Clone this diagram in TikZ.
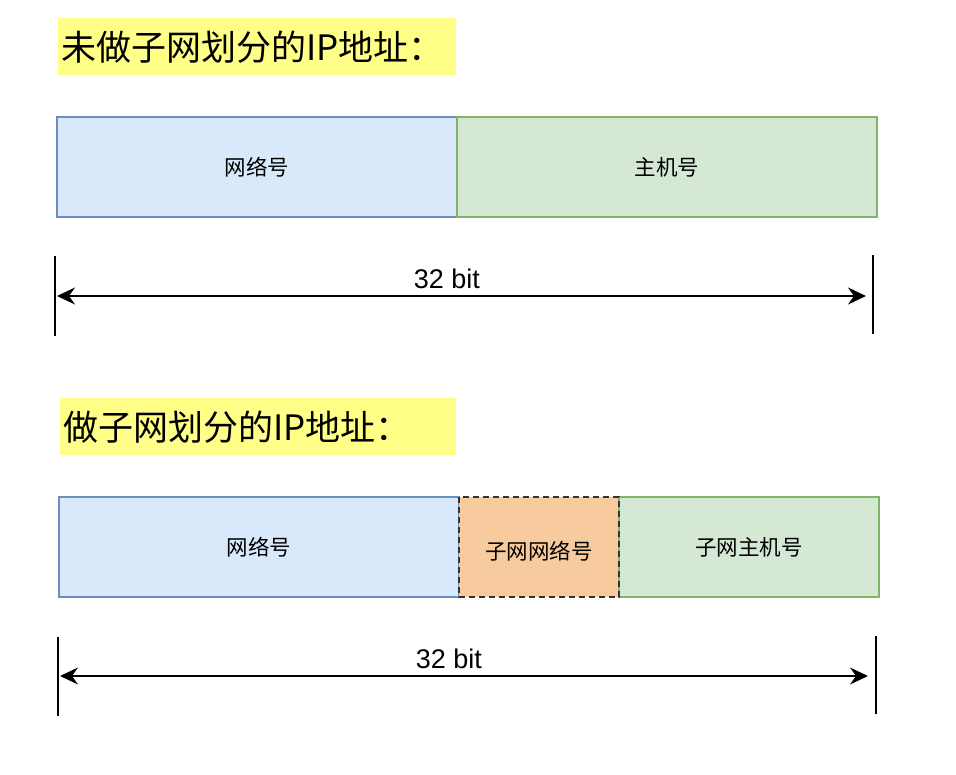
\documentclass[tikz,border=0pt]{standalone}
\usepackage{fontspec}
\setmainfont{Liberation Sans}
\newfontfamily\cjk{Noto Sans CJK SC}
\usepackage{xcolor}
\usetikzlibrary{arrows.meta,positioning}
\definecolor{TitleFill}{HTML}{FFFF88}
\definecolor{NetFill}{HTML}{DAE8FC}
\definecolor{NetLine}{HTML}{6C8EBF}
\definecolor{HostFill}{HTML}{D5E8D4}
\definecolor{HostLine}{HTML}{82B366}
\definecolor{SubFill}{HTML}{F8CB9E}
\definecolor{SubLine}{HTML}{333333}
\tikzset{
  titlebox/.style={fill=TitleFill,anchor=north west,minimum height=57pt,inner xsep=3pt,align=left,font=\cjk\fontsize{35}{40}\selectfont,text width=392pt},
  field/.style={line width=1.3pt,minimum height=100pt,outer sep=0pt,inner sep=0pt,font=\cjk\fontsize{21.5}{26}\selectfont},
  netbox/.style={field,draw=NetLine,fill=NetFill},
  hostbox/.style={field,draw=HostLine,fill=HostFill},
  subbox/.style={field,fill=SubFill},
  subedge/.style={draw=SubLine,line width=1.5pt,dash pattern=on 6pt off 4pt},
  tick/.style={line width=1.6pt},
  span/.style={{Stealth[length=18pt,width=17pt,inset=6pt]}-{Stealth[length=18pt,width=17pt,inset=6pt]},line width=1.6pt},
  bits/.style={font=\fontsize{27}{32}\selectfont}
}
\begin{document}
\begin{tikzpicture}[x=1pt,y=-1pt]
  \useasboundingbox[fill=white] (0,0) rectangle (956,774);
  % without subnetting
  \node[titlebox] (title1) at (58,18) {未做子网划分的IP地址：};
  \node[netbox,anchor=north west,minimum width=400pt] (net1) at (57,117) {网络号};
  \node[hostbox,right=0pt of net1,minimum width=420pt] (host1) {主机号};
  \coordinate (l1top) at (55,256);
  \coordinate (l1bot) at (55,336);
  \coordinate (r1top) at (873,255);
  \coordinate (r1bot) at (873,334);
  \draw[tick] (l1top) -- (l1bot);
  \draw[tick] (r1top) -- (r1bot);
  \coordinate (a1l) at (57,296);
  \coordinate (a1r) at (866,296);
  \draw[span] (a1l) -- (a1r);
  \node[bits] (bits1) at (447,279) {32 bit};
  % with subnetting
  \node[titlebox,text width=390pt] (title2) at (60,398) {做子网划分的IP地址：};
  \node[netbox,anchor=north west,minimum width=400pt] (net2) at (59,497) {网络号};
  \node[subbox,right=0pt of net2,minimum width=160pt] (sub2) {};
  \node[hostbox,right=0pt of sub2,minimum width=260pt] (host2) {子网主机号};
  \draw[subedge] (sub2.north west) rectangle (sub2.south east);
  \node[font=\cjk\fontsize{21.5}{26}\selectfont] (sub2text) at ([yshift=-4pt]sub2.center) {子网网络号};
  \coordinate (l2top) at (58,637);
  \coordinate (l2bot) at (58,716);
  \coordinate (r2top) at (876,636);
  \coordinate (r2bot) at (876,714);
  \draw[tick] (l2top) -- (l2bot);
  \draw[tick] (r2top) -- (r2bot);
  \coordinate (a2l) at (60,676);
  \coordinate (a2r) at (868,676);
  \draw[span] (a2l) -- (a2r);
  \node[bits] (bits2) at (449,659) {32 bit};
\end{tikzpicture}
\end{document}
